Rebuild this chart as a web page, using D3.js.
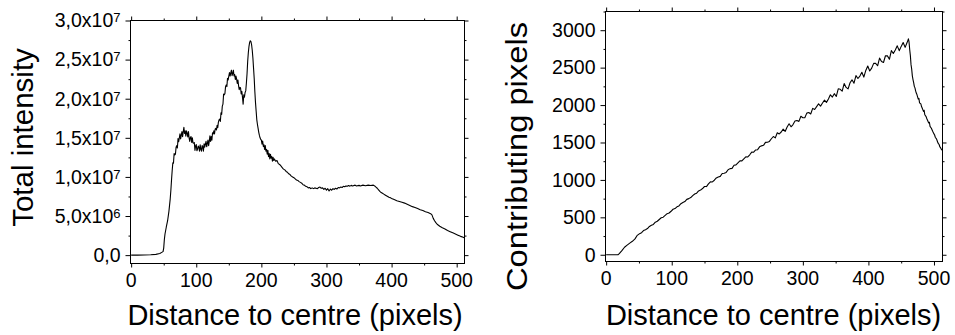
<!DOCTYPE html>
<html>
<head>
<meta charset="utf-8">
<script src="https://cdn.jsdelivr.net/npm/d3@7"></script>
<style>
  html, body { margin: 0; padding: 0; background: #fff; }
  svg { display: block; font-family: "Liberation Sans", Arial, sans-serif; }
</style>
</head>
<body>
<svg id="chart" width="955" height="335"></svg>
<script>
// ---------------- DATA ----------------
// Left panel: total intensity (in units of 10^6) vs distance to centre (pixels)
const distanceL = [0,10,20,30,38,44,47,49,50,51,52,54,56,58,59,60,61,62,63,
  64,65,66,67,68,69,70,71,72,73,74,75,76,77,78,79,80,81,82,83,84,85,86,87,88,89,90,91,92,93,94,95,96,97,98,99,100,101,102,103,
  104,105,106,107,108,109,110,111,112,113,114,115,116,117,118,119,120,121,122,123,124,125,126,127,128,129,130,131,132,133,134,135,136,137,138,139,
  140,141,142,143,144,145,146,147,148,149,150,151,152,153,154,155,156,157,158,159,160,161,162,163,164,165,166,167,168,169,170,171,172,
  173,174,175,176,177,178,179,180,181,182,183,184,185,186,187,188,189,190,191,192,193,194,195,196,197,198,199,
  200,201,202,203,204,205,206,207,208,209,210,211,212,213,214,215,216,217,218,219,220,222,224,226,228,230,232,234,236,238,240,242,244,246,248,
  250,252,254,256,258,260,262,264,266,268,270,272,274,276,278,280,282,284,286,288,290,292,294,296,298,300,302,304,306,308,310,312,314,316,318,
  320,322,324,326,328,330,332,334,336,338,340,344,346,350,352,356,360,364,368,372,374,376,378,380,382,384,386,388,390,392,394,396,398,
  400,404,408,412,416,420,424,428,432,436,440,444,448,452,456,460,462,464,466,468,470,474,478,482,486,490,494,498,502,506,510,512];
const intensityL = [0,0.0,0.02,0.05,0.1,0.2,0.35,0.45,0.9,2.0,2.7,3.6,4.4,5.6,6.4,7.2,8.3,9.6,10.8,
  11.8,11.75,13.0,12.8,12.9,13.8,14.0,13.7,14.9,14.5,15.0,15.5,14.85,15.35,15.8,15.15,15.75,16.35,15.55,15.9,15.2,15.9,15.6,15.1,15.8,15.0,14.55,15.05,15.15,14.4,15.0,14.35,14.3,14.4,13.4,13.95,14.15,13.35,13.55,13.95,
  13.8,13.3,14.1,13.55,13.3,14.0,13.85,13.3,14.25,13.8,14.2,14.55,13.85,14.3,14.7,14.0,14.55,15.25,14.55,15.15,14.7,15.65,15.5,15.9,15.5,16.1,16.2,16.0,16.6,16.3,17.0,17.3,17.4,17.1,18.2,18.0,
  19.05,19.3,20.6,20.5,20.65,21.55,21.75,21.55,22.6,22.4,22.9,23.35,22.9,23.3,23.65,22.95,23.25,23.65,22.9,23.1,22.45,22.9,22.5,21.95,22.4,21.65,21.15,21.45,21.4,20.6,20.95,20.2,19.3,
  20.5,20.2,20.8,21.0,22.0,23.2,24.8,25.9,26.7,27.2,27.4,27.3,26.9,26.2,25.2,23.9,22.6,20.9,19.5,18.4,17.3,16.7,16.2,15.7,15.3,15.0,14.8,
  14.7,14.2,14.6,13.9,14.1,13.5,14.0,13.3,13.5,12.9,13.4,12.6,13.0,12.3,12.9,12.4,12.6,12.0,12.5,12.1,12.3,12.0,12.1,11.7,11.6,11.4,11.2,11.0,10.9,10.7,10.6,10.4,10.3,10.1,10.0,
  9.9,9.75,9.6,9.55,9.4,9.3,9.2,9.0,8.95,8.8,8.75,8.6,8.65,8.5,8.6,8.5,8.6,8.55,8.5,8.65,8.7,8.55,8.6,8.4,8.55,8.3,8.5,8.2,8.45,8.3,8.5,8.4,8.55,8.45,8.65,
  8.6,8.7,8.65,8.8,8.75,8.85,8.8,8.9,8.82,8.92,8.85,8.95,8.85,8.92,8.85,8.95,8.88,8.95,8.9,8.95,8.85,8.7,8.55,8.35,8.15,8.0,7.9,7.8,7.7,7.6,7.5,7.4,7.35,
  7.25,7.1,6.95,6.85,6.75,6.65,6.5,6.35,6.2,6.1,5.95,5.8,5.7,5.55,5.45,5.3,5.15,4.7,4.4,4.15,3.95,3.7,3.5,3.35,3.15,3.0,2.85,2.7,2.55,2.4,2.28,2.2];

// Right panel: contributing pixels vs distance to centre (pixels)
const distanceR = [0,18,20,24,28,32,36,40,44,47,
  51,54,57,60,63,66,69,72,75,78,81,84,87,90,93,96,99,102,105,108,111,114,117,120,123,126,129,132,135,138,141,144,147,
  150,153,156,159,162,165,168,171,174,177,180,183,186,189,192,195,198,201,204,207,210,213,216,219,222,225,228,231,234,237,240,243,246,249,
  252,255,258,261,264,267,270,273,276,279,282,285,288,291,294,297,300,303,306,309,312,315,318,321,324,327,330,333,336,339,342,345,348,
  351,354,357,360,363,366,369,372,375,378,381,384,387,390,393,396,399,402,405,408,411,414,417,420,423,426,429,432,435,438,441,444,447,450,453,456,459,461,
  462,463,464,465,466,467,468,469,470,471,472,473,474,476,477,478,480,481,482,484,485,486,488,489,490,492,493,494,496,497,498,500,501,502,504,505,506,508,509,510,512];
const pixelsR = [0,0,15,55,100,128,155,180,212,255,
  282,295,324,335,350,378,394,405,436,448,471,494,502,526,549,558,581,608,617,641,652,682,698,711,740,750,764,791,812,823,853,864,885,
  912,911,946,974,973,996,1026,1040,1047,1086,1090,1100,1136,1151,1154,1196,1201,1228,1254,1254,1282,1308,1307,1336,1371,1370,1400,1404,1442,1455,1462,1501,1503,1514,
  1550,1580,1561,1630,1614,1640,1678,1648,1708,1750,1710,1740,1786,1793,1782,1850,1831,1831,1892,1900,1881,1956,1941,1979,2017,1986,2028,2066,2036,2081,2138,2107,2152,
  2115,2217,2211,2185,2287,2236,2216,2298,2337,2292,2394,2355,2387,2438,2374,2463,2521,2455,2494,2557,2557,2525,2627,2582,2569,2659,2657,2612,2727,2689,2735,2791,2727,2784,2835,2771,2835,2885,
  2840,2740,2660,2540,2480,2390,2340,2300,2250,2230,2190,2160,2140,2080,2090,2030,2015,1980,1960,1915,1930,1870,1845,1820,1800,1760,1770,1715,1690,1670,1650,1615,1600,1570,1545,1520,1495,1470,1440,1430,1395];

// Tick values and labels
const xTicks = [0,100,200,300,400,500];
const xMinorTicks = [50,150,250,350,450];
const yTicksL = [0,5,10,15,20,25,30];
const yMinorTicksL = [2.5,7.5,12.5,17.5,22.5,27.5];
const yTickMantissaL = ["0,0","5,0","1,0","1,5","2,0","2,5","3,0"];
const yTickExpL = ["","6","7","7","7","7","7"];
const yTicksR = [0,500,1000,1500,2000,2500,3000];
const yMinorTicksR = [250,750,1250,1750,2250,2750,3250];

const xTitle = "Distance to centre (pixels)";
const yTitleL = "Total intensity";
const yTitleR = "Contributing pixels";

// ---------------- DRAW ----------------
const svg = d3.select("#chart");

function panel(cfg) {
  const x = d3.scaleLinear().domain(cfg.xDomain).range([cfg.left, cfg.right]);
  const y = d3.scaleLinear().domain(cfg.yDomain).range([cfg.bottom, cfg.top]);
  const g = svg.append("g");

  const mk = (axisFn, scale, vals, size) =>
    axisFn(scale).tickValues(vals).tickSize(size).tickSizeOuter(0).tickFormat("");
  const addAxis = (axis, tx, ty) => {
    const a = g.append("g").attr("transform", `translate(${tx},${ty})`).call(axis);
    a.select(".domain").remove();
    a.selectAll("line").attr("stroke", "#000").attr("stroke-width", 1);
  };
  addAxis(mk(d3.axisBottom, x, xTicks, 4), 0, cfg.bottom);
  addAxis(mk(d3.axisBottom, x, xMinorTicks, 2), 0, cfg.bottom);
  addAxis(mk(d3.axisTop, x, xTicks, 4), 0, cfg.top);
  addAxis(mk(d3.axisTop, x, xMinorTicks, 2), 0, cfg.top);
  addAxis(mk(d3.axisLeft, y, cfg.yTicks, 5), cfg.left, 0);
  addAxis(mk(d3.axisLeft, y, cfg.yMinor, 2), cfg.left, 0);
  addAxis(mk(d3.axisRight, y, cfg.yTicks, 4), cfg.right, 0);
  addAxis(mk(d3.axisRight, y, cfg.yMinor, 2), cfg.right, 0);

  g.append("rect")
    .attr("x", cfg.left).attr("y", cfg.top)
    .attr("width", cfg.right - cfg.left).attr("height", cfg.bottom - cfg.top)
    .attr("fill", "none").attr("stroke", "#000").attr("stroke-width", 1);

  const pts = cfg.xs.map((d, i) => [d, cfg.ys[i]]);
  g.append("path")
    .datum(pts)
    .attr("fill", "none").attr("stroke", "#000").attr("stroke-width", 1.1)
    .attr("stroke-linejoin", "round")
    .attr("d", d3.line().x(d => x(d[0])).y(d => y(d[1])));

  g.selectAll("text.xt").data(xTicks).enter().append("text")
    .attr("x", d => x(d)).attr("y", cfg.bottom + 23.5)
    .attr("text-anchor", "middle").attr("font-size", 19.5).attr("fill", "#000")
    .text(d => d);

  cfg.yLabels(g, y);

  g.append("text")
    .attr("x", cfg.xTitleX).attr("y", 325)
    .attr("text-anchor", "middle").attr("font-size", 29).attr("fill", "#000")
    .text(xTitle);

  const yt = g.append("text")
    .attr("transform", `translate(${cfg.yTitleX},${cfg.yTitleY}) rotate(-90)`)
    .attr("text-anchor", "middle").attr("font-size", cfg.yTitleSize).attr("fill", "#000")
    .text(cfg.yTitle);
  if (cfg.yTitleLen) yt.attr("textLength", cfg.yTitleLen).attr("lengthAdjust", "spacingAndGlyphs");
}

panel({
  left: 130.5, right: 464.5, top: 20.5, bottom: 263.5,
  xDomain: [-1, 512], yDomain: [-1.07, 30],
  xs: distanceL, ys: intensityL,
  yTicks: yTicksL, yMinor: yMinorTicksL,
  yLabels: (g, y) => {
    const t = g.selectAll("text.yt").data(yTicksL).enter().append("text")
      .attr("x", 120.5).attr("y", d => y(d) + 6.8)
      .attr("text-anchor", "end").attr("font-size", 19.5).attr("fill", "#000");
    t.append("tspan").text((d, i) => yTickExpL[i] ? yTickMantissaL[i] + "x10" : yTickMantissaL[i]);
    t.filter((d, i) => yTickExpL[i]).append("tspan")
      .attr("dy", -5).attr("font-size", 13)
      .text(d => yTickExpL[yTicksL.indexOf(d)]);
  },
  xTitleX: 295, yTitle: yTitleL, yTitleX: 33, yTitleY: 137.5, yTitleSize: 29.5
});

panel({
  left: 605.5, right: 942.5, top: 11.5, bottom: 261.5,
  xDomain: [-1, 513], yDomain: [-90, 3250],
  xs: distanceR, ys: pixelsR,
  yTicks: yTicksR, yMinor: yMinorTicksR,
  yLabels: (g, y) => {
    g.selectAll("text.yt").data(yTicksR).enter().append("text")
      .attr("x", 595.5).attr("y", d => y(d) + 6.8)
      .attr("text-anchor", "end").attr("font-size", 19.5).attr("fill", "#000")
      .text(d => d);
  },
  xTitleX: 773.5, yTitle: yTitleR, yTitleX: 526.5, yTitleY: 156.5, yTitleSize: 29.5, yTitleLen: 269
});
</script>
</body>
</html>
